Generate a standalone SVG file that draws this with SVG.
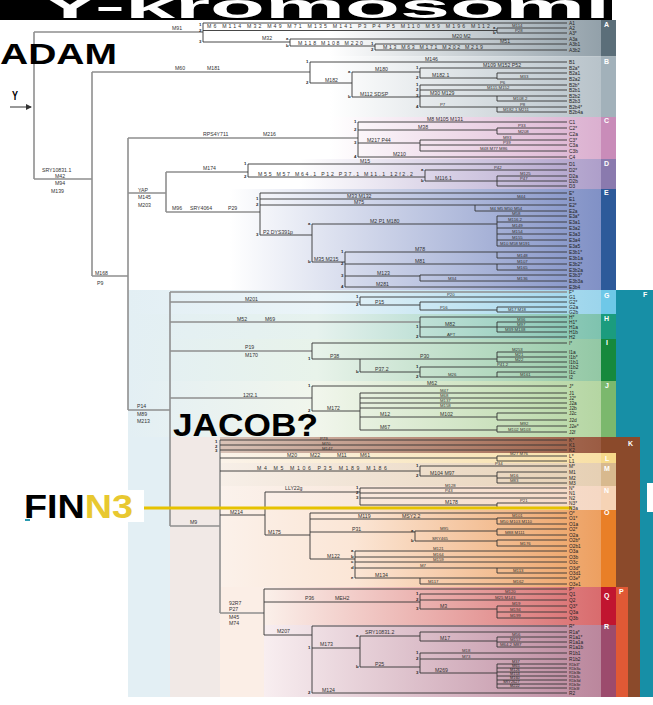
<svg xmlns="http://www.w3.org/2000/svg" width="653" height="705" viewBox="0 0 653 705">
<style>
.bb{fill:none;stroke:#8f8f8f;stroke-width:1.6}
.ln{fill:none;stroke:#333;stroke-width:0.9}
.t{font-family:'Liberation Sans',Arial,sans-serif;font-size:5.2px;fill:#333}
.ts{font-family:'Liberation Sans',Arial,sans-serif;font-size:4.3px;fill:#333}
.lf{font-family:'Liberation Sans',Arial,sans-serif;font-size:4.8px;fill:#222}
.lfs{font-family:'Liberation Sans',Arial,sans-serif;font-size:3.9px;fill:#222}
.n{font-family:'Liberation Sans',Arial,sans-serif;font-size:4.3px;font-weight:bold;fill:#222}
.hg{font-family:'Liberation Sans',Arial,sans-serif;font-size:7px;font-weight:bold;fill:#fff}
.big{font-family:'Liberation Sans',Arial,sans-serif;font-weight:bold}
</style>
<defs>
<marker id="arr" markerWidth="6" markerHeight="6" refX="5" refY="3" orient="auto" markerUnits="userSpaceOnUse"><path d="M0,0 L6,3 L0,6 z" fill="#333"/></marker>
<linearGradient id="gA" gradientUnits="userSpaceOnUse" x1="330" y1="0" x2="600" y2="0"><stop offset="0" stop-color="#fff"/><stop offset="1" stop-color="#93a1aa"/></linearGradient>
<linearGradient id="gB" gradientUnits="userSpaceOnUse" x1="330" y1="0" x2="600" y2="0"><stop offset="0" stop-color="#fff"/><stop offset="1" stop-color="#b8c3ca"/></linearGradient>
<linearGradient id="gC" gradientUnits="userSpaceOnUse" x1="330" y1="0" x2="600" y2="0"><stop offset="0" stop-color="#fff"/><stop offset="1" stop-color="#dbb0d0"/></linearGradient>
<linearGradient id="gD" gradientUnits="userSpaceOnUse" x1="300" y1="0" x2="600" y2="0"><stop offset="0" stop-color="#fff"/><stop offset="1" stop-color="#ae9fca"/></linearGradient>
<linearGradient id="gE" gradientUnits="userSpaceOnUse" x1="230" y1="0" x2="600" y2="0"><stop offset="0" stop-color="#fff"/><stop offset="1" stop-color="#8191c6"/></linearGradient>
<linearGradient id="gG" gradientUnits="userSpaceOnUse" x1="128" y1="0" x2="600" y2="0"><stop offset="0" stop-color="#e3eff4"/><stop offset="0.4" stop-color="#eaf4f8"/><stop offset="1" stop-color="#9cd5ec"/></linearGradient>
<linearGradient id="gH" gradientUnits="userSpaceOnUse" x1="128" y1="0" x2="600" y2="0"><stop offset="0" stop-color="#e3eff4"/><stop offset="0.4" stop-color="#e6f2ee"/><stop offset="1" stop-color="#7fc3af"/></linearGradient>
<linearGradient id="gI" gradientUnits="userSpaceOnUse" x1="128" y1="0" x2="600" y2="0"><stop offset="0" stop-color="#e3eff4"/><stop offset="0.4" stop-color="#e8f3ea"/><stop offset="1" stop-color="#93c8a5"/></linearGradient>
<linearGradient id="gJ" gradientUnits="userSpaceOnUse" x1="128" y1="0" x2="600" y2="0"><stop offset="0" stop-color="#e3eff4"/><stop offset="0.4" stop-color="#f1f6ec"/><stop offset="1" stop-color="#b5d6a3"/></linearGradient>
<linearGradient id="gK" gradientUnits="userSpaceOnUse" x1="220" y1="0" x2="600" y2="0"><stop offset="0" stop-color="#d9c3b8"/><stop offset="1" stop-color="#9b5c43"/></linearGradient>
<linearGradient id="gL" gradientUnits="userSpaceOnUse" x1="220" y1="0" x2="600" y2="0"><stop offset="0" stop-color="#fbf3ea"/><stop offset="1" stop-color="#f8e0a6"/></linearGradient>
<linearGradient id="gM" gradientUnits="userSpaceOnUse" x1="220" y1="0" x2="600" y2="0"><stop offset="0" stop-color="#f7efe8"/><stop offset="1" stop-color="#e6d0b4"/></linearGradient>
<linearGradient id="gN" gradientUnits="userSpaceOnUse" x1="220" y1="0" x2="600" y2="0"><stop offset="0" stop-color="#fbf2ec"/><stop offset="1" stop-color="#f5d8c4"/></linearGradient>
<linearGradient id="gO" gradientUnits="userSpaceOnUse" x1="220" y1="0" x2="600" y2="0"><stop offset="0" stop-color="#fbf1ea"/><stop offset="0.35" stop-color="#fbe6d6"/><stop offset="1" stop-color="#eda061"/></linearGradient>
<linearGradient id="gQ" gradientUnits="userSpaceOnUse" x1="264" y1="0" x2="600" y2="0"><stop offset="0" stop-color="#fbf0ea"/><stop offset="1" stop-color="#d96c6e"/></linearGradient>
<linearGradient id="gR" gradientUnits="userSpaceOnUse" x1="264" y1="0" x2="600" y2="0"><stop offset="0" stop-color="#f8eef0"/><stop offset="1" stop-color="#bb879d"/></linearGradient>
</defs>
<rect width="653" height="705" fill="#fff"/>
<g id="bands">
<rect x="330" y="20" width="271" height="36.5" fill="url(#gA)"/>
<rect x="330" y="56.5" width="271" height="60.5" fill="url(#gB)"/>
<rect x="330" y="117" width="271" height="42" fill="url(#gC)"/>
<rect x="300" y="159" width="301" height="30" fill="url(#gD)"/>
<rect x="230" y="189" width="371" height="101" fill="url(#gE)"/>
<rect x="128" y="290" width="42" height="407" fill="#e3eff4"/>
<rect x="128" y="290" width="473" height="24" fill="url(#gG)"/>
<rect x="128" y="314" width="473" height="25" fill="url(#gH)"/>
<rect x="128" y="339" width="473" height="42" fill="url(#gI)"/>
<rect x="128" y="381" width="473" height="56" fill="url(#gJ)"/>
<rect x="170" y="437" width="50" height="260" fill="#f1e9e6"/>
<rect x="220" y="437" width="381" height="16" fill="url(#gK)"/>
<rect x="220" y="453" width="381" height="10" fill="url(#gL)"/>
<rect x="220" y="463" width="381" height="23" fill="url(#gM)"/>
<rect x="220" y="486" width="381" height="24" fill="url(#gN)"/>
<rect x="220" y="510" width="381" height="77" fill="url(#gO)"/>
<rect x="220" y="587" width="44" height="110" fill="#fbeee6"/>
<rect x="264" y="587" width="337" height="38" fill="url(#gQ)"/>
<rect x="264" y="625" width="337" height="72" fill="url(#gR)"/>
</g>
<g id="haplogroup-columns">
<rect x="616" y="290" width="37" height="407" fill="#178fa6"/>
<rect x="616" y="437" width="24" height="260" fill="#8b4a2b"/>
<rect x="616" y="587" width="12" height="110" fill="#e05935"/>
<rect x="647" y="483" width="6" height="29" fill="#fff"/>
<rect x="601" y="20" width="15" height="36.5" fill="#5b6e79"/>
<rect x="601" y="56.5" width="15" height="60.5" fill="#a2b1ba"/>
<rect x="601" y="117" width="15" height="42" fill="#c98cb9"/>
<rect x="601" y="159" width="15" height="30" fill="#8a7aae"/>
<rect x="601" y="189" width="15" height="101" fill="#2d5a9a"/>
<rect x="601" y="290" width="15" height="24" fill="#6ec8e8"/>
<rect x="601" y="314" width="15" height="25" fill="#1b9c7e"/>
<rect x="601" y="339" width="15" height="42" fill="#16893c"/>
<rect x="601" y="381" width="15" height="56" fill="#7bb86d"/>
<rect x="601" y="437" width="15" height="16" fill="#8b4a2b"/>
<rect x="601" y="453" width="15" height="10" fill="#f6d98a"/>
<rect x="601" y="463" width="15" height="23" fill="#d8b98e"/>
<rect x="601" y="486" width="15" height="24" fill="#f6d3b5"/>
<rect x="601" y="510" width="15" height="77" fill="#e97f27"/>
<rect x="601" y="587" width="15" height="38" fill="#c11530"/>
<rect x="601" y="625" width="15" height="72" fill="#9c4b6d"/>
<text class="hg" x="604" y="27">A</text>
<text class="hg" x="604" y="64">B</text>
<text class="hg" x="604" y="123">C</text>
<text class="hg" x="604" y="166">D</text>
<text class="hg" x="604" y="195">E</text>
<text class="hg" x="643" y="297">F</text>
<text class="hg" x="604" y="298">G</text>
<text class="hg" x="604" y="321">H</text>
<text class="hg" x="606" y="345">I</text>
<text class="hg" x="605" y="388">J</text>
<text class="hg" x="628" y="446">K</text>
<text class="hg" x="605" y="461">L</text>
<text class="hg" x="604" y="471">M</text>
<text class="hg" x="604" y="493">N</text>
<text class="hg" x="604" y="515">O</text>
<text class="hg" x="619" y="594">P</text>
<text class="hg" x="604" y="598">Q</text>
<text class="hg" x="604" y="629">R</text>
</g>
<g id="title">
<rect x="0" y="0" width="612" height="20" fill="#000"/>
<text class="big" x="40" y="18" font-size="34" fill="#fff" textLength="570" lengthAdjust="spacingAndGlyphs">Y-kromosomi</text>
</g>
<g id="connectors">
<path class="bb" d="M34 32V179M34 32H203M34 179H92M92 72V276M92 72H310M92 276H128M128 138V410M128 138H358M128 193H166M166 172V212M166 172H248M166 212H260M128 410H170M170 292V526M170 292H567M170 302H360M170 322H420M170 351H312M170 398H312M170 526H220M220 440V613M220 613H264"/>
<path class="ln" d="M203 23V42M203 23H567M203 30.5H497M497 28V33M497 28H567M497 33H567M203 42H290M290 39V46M290 39H567M290 46H375M375 44V50M375 44H567M375 50H567"/>
<path class="ln" d="M310 62V83M310 62H567M310 83H352M352 72V97M352 72H420M420 68V78M420 68H567M420 78H497M497 73V79M497 73H567M497 79H567M352 97H420M420 85V107M420 85H567M420 90H567M420 96H497M497 96V101M497 96H567M497 101H567M420 107H497M497 107V112M497 107H567M497 112H567"/>
<path class="ln" d="M358 122V157M358 122H567M358 130H497M497 128V134M497 128H567M497 134H567M358 143H420M420 140V151M420 140H567M420 145H567M420 151H567M358 157H567"/>
<path class="ln" d="M248 164V177M248 164H567M248 177H425M425 170V181M425 170H567M425 181H497M497 176V186M497 176H567M497 181H567M497 186H567"/>
<path class="ln" d="M260 193V235M260 193H567M260 199H567M260 205H475M475 205V211M475 205H567M475 211H567M260 235H312M312 224V262M312 224H497M497 216V246M497 216H567M497 222H567M497 228H567M497 234H567M497 240H567M497 246H567M312 262H345M345 252V287M345 252H497M497 252V258M497 252H567M497 258H567M345 264H497M497 264V270M497 264H567M497 270H567M345 276H420M420 275V281M420 275H567M420 281H567M345 287H567"/>
<path class="ln" d="M360 297V305M360 297H567M360 305H420M420 302V310M420 302H567M420 310H497M497 307V312M497 307H567M497 312H567"/>
<path class="ln" d="M420 317V337M420 317H567M420 327H497M497 322V332M497 322H567M497 327H567M497 332H567M420 337H567"/>
<path class="ln" d="M312 343V359M312 343H567M312 359H497M497 352V362M497 352H567M497 357H567M497 362H567M360 359V372M360 372H420M420 367V377M420 367H567M420 377H497M497 372V377M497 372H567M497 377H567"/>
<path class="ln" d="M312 386V411M312 386H567M312 411H360M360 393V430M360 393H567M360 398H567M360 403H567M360 408H567M360 417H497M497 413V420M497 413H567M497 420H567M360 430H497M497 426V432M497 426H567M497 432H567"/>
<path class="ln" d="M220 440H567M220 445H567M220 450H567"/>
<path class="ln" d="M220 458H497M497 456V461M497 456H567M497 461H567"/>
<path class="ln" d="M220 471H420M420 466V476M420 466H567M420 476H497M497 472V483M497 472H567M497 478H567M497 483H567"/>
<path class="ln" d="M220 515H265M265 492V535M265 492H360M360 488V505M360 488H567M360 493H567M360 498H567M360 505H497M497 503V508M497 503H567M497 508H567"/>
<path class="ln" d="M265 535H310M310 513V559M310 513H567M310 519H497M497 518V524M497 518H567M497 524H567M310 532H415M415 531V541M415 531H497M497 529V535M497 529H567M497 535H567M415 541H497M497 540V546M497 540H567M497 546H567M310 559H355M355 551V578M355 551H567M355 557H567M355 562H567M355 568H497M497 568V573M497 568H567M497 573H567M355 578H420M420 578V584M420 578H567M420 584H567"/>
<path class="ln" d="M264 589V635M264 589H567M264 602H420M420 594V609M420 594H567M420 600H567M420 609H497M497 606V618M497 606H567M497 612H567M497 618H567"/>
<path class="ln" d="M264 635H312M312 626V693M312 626H567M312 648H360M360 636V667M360 636H420M420 632V641M420 632H567M420 641H497M497 637V647M497 637H567M497 642H567M497 647H567M360 667H420M420 653V673M420 653H567M420 659H567M420 673H497M497 664V688M497 664H567M497 668H567M497 672H567M497 676H567M497 680H567M497 684H567M497 688H567M312 693H567"/>
<path d="M143 508H572" fill="none" stroke="#e6c200" stroke-width="3"/>
<path d="M10 107H31" fill="none" stroke="#333" stroke-width="1" marker-end="url(#arr)"/>
</g>
<g id="marker-labels">
<text class="t" x="172" y="29.5">M91</text>
<text class="t" x="207" y="27.5" textLength="283" lengthAdjust="spacing">M6 M114 M32 M49 M71 M135 M141 P3 P4 P5 M110 M59 M196 M112</text>
<text class="ts" x="512" y="27">M114</text><text class="ts" x="515" y="32">P28</text>
<text class="t" x="262" y="40">M32</text>
<text class="t" x="452" y="37.5">M20 M2</text>
<text class="t" x="298" y="44.5" textLength="65" lengthAdjust="spacing">M118 M108 M220</text>
<text class="t" x="500" y="42.5">M51</text>
<text class="t" x="383" y="48.7" textLength="100" lengthAdjust="spacing">M13 M63 M171 M202 M219</text>
<text class="t" x="42" y="172">SRY10831.1</text>
<text class="t" x="55" y="177.5">M42</text><text class="t" x="55" y="185">M94</text><text class="t" x="51" y="193">M139</text>
<text class="t" x="175" y="69.5">M60</text><text class="t" x="207" y="69.5">M181</text>
<text class="t" x="425" y="60.5">M146</text>
<text class="t" x="325" y="81.5">M182</text>
<text class="t" x="375" y="70.5">M180</text>
<text class="t" x="483" y="66.5">M109 M152 P52</text>
<text class="t" x="432" y="76.5">M182.1</text>
<text class="ts" x="520" y="77.5">M33</text>
<text class="t" x="360" y="95.5">M112 SDSP</text>
<text class="ts" x="500" y="83.8">P6</text>
<text class="ts" x="487" y="88.8">M115 M152</text>
<text class="t" x="430" y="94.5">M30 M129</text>
<text class="ts" x="513" y="99.8">M108.2</text>
<text class="ts" x="440" y="105.8">P7</text><text class="ts" x="520" y="105.8">P8</text>
<text class="ts" x="503" y="110.8">M182.1 M211</text>
<text class="t" x="95" y="274.5">M168</text><text class="t" x="97" y="285">P9</text>
<text class="t" x="203" y="136">RPS4Y711</text><text class="t" x="263" y="136">M216</text>
<text class="t" x="427" y="120.5">M8 M105 M131</text>
<text class="t" x="418" y="128.5">M38</text>
<text class="ts" x="518" y="127">P33</text><text class="ts" x="518" y="133">M208</text>
<text class="t" x="367" y="141.5">M217 P44</text>
<text class="ts" x="503" y="139">M93</text><text class="ts" x="503" y="144">P39</text>
<text class="ts" x="480" y="149.7">M48 M77 M86</text>
<text class="t" x="393" y="155.5">M210</text>
<text class="t" x="138" y="191.5">YAP</text><text class="t" x="138" y="199">M145</text><text class="t" x="138" y="206.5">M203</text>
<text class="t" x="203" y="169.5">M174</text>
<text class="t" x="360" y="162.5">M15</text>
<text class="t" x="258" y="175.5" textLength="155" lengthAdjust="spacing">M55 M57 M64.1 P12 P37.1 M11.1 12f2.2</text>
<text class="ts" x="494" y="168.8">P42</text>
<text class="t" x="435" y="179.5">M116.1</text>
<text class="ts" x="520" y="175">M125</text><text class="ts" x="520" y="180">P47</text>
<text class="t" x="172" y="210">M96</text><text class="t" x="190" y="210">SRY4064</text><text class="t" x="228" y="210">P29</text>
<text class="t" x="347" y="197.5">M33 M132</text>
<text class="ts" x="517" y="197.8">M44</text>
<text class="t" x="354" y="203.5">M75</text>
<text class="ts" x="490" y="209.8">M4 M5 M50 M54</text>
<text class="t" x="263" y="233.5">P2 DYS391p</text>
<text class="t" x="370" y="222.5">M2 P1 M180</text>
<text class="ts" x="512" y="215">M58</text><text class="ts" x="508" y="221">M116.2</text><text class="ts" x="512" y="227">M149</text><text class="ts" x="512" y="233">M154</text><text class="ts" x="512" y="239">M155</text><text class="ts" x="500" y="245">M10 M58 M191</text>
<text class="t" x="314" y="260.5">M35 M215</text>
<text class="t" x="415" y="250.5">M78</text><text class="ts" x="517" y="257">M148</text>
<text class="t" x="415" y="262.5">M81</text><text class="ts" x="517" y="263">M107</text><text class="ts" x="517" y="269">M165</text>
<text class="t" x="377" y="274.5">M123</text>
<text class="ts" x="448" y="279.8">M34</text><text class="ts" x="517" y="280">M136</text>
<text class="t" x="376" y="285.7">M281</text>
<text class="t" x="137" y="408">P14</text><text class="t" x="137" y="416">M89</text><text class="t" x="137" y="423">M213</text>
<text class="t" x="245" y="300.5">M201</text>
<text class="ts" x="447" y="295.8">P20</text>
<text class="t" x="375" y="303.5">P15</text>
<text class="ts" x="440" y="308.8">P16</text>
<text class="ts" x="508" y="311">M17 M18</text>
<text class="t" x="237" y="320.5">M52</text><text class="t" x="265" y="320.5">M69</text>
<text class="t" x="445" y="325.5">M82</text>
<text class="ts" x="517" y="321">M36</text><text class="ts" x="517" y="326">M97</text><text class="ts" x="505" y="331">M39 M138</text>
<text class="ts" x="447" y="335.8">APT</text>
<text class="t" x="245" y="349">P19</text><text class="t" x="245" y="357">M170</text>
<text class="t" x="330" y="357.5">P38</text>
<text class="t" x="420" y="357.5">P30</text>
<text class="ts" x="512" y="351">M253</text><text class="ts" x="515" y="356">M21</text><text class="ts" x="515" y="361">M22</text>
<text class="t" x="375" y="370.5">P37.2</text>
<text class="ts" x="497" y="366">P41.2</text>
<text class="ts" x="448" y="375.8">M26</text><text class="ts" x="520" y="376">M161</text>
<text class="t" x="243" y="396.5">12f2.1</text>
<text class="t" x="427" y="384.5">M62</text>
<text class="ts" x="440" y="392">M47</text><text class="ts" x="440" y="397">M68</text><text class="ts" x="440" y="402">M137</text><text class="ts" x="440" y="407">M158</text>
<text class="t" x="327" y="409.5">M172</text>
<text class="t" x="380" y="415.5">M12</text><text class="t" x="440" y="415.5">M102</text>
<text class="t" x="380" y="428.5">M67</text>
<text class="ts" x="520" y="425">M92</text><text class="ts" x="508" y="431">M102 M103</text>
<text class="ts" x="320" y="439.5">P79</text><text class="ts" x="322" y="444.5">M70</text><text class="ts" x="322" y="449.5">M147</text>
<text class="t" x="287" y="456.5">M20</text><text class="t" x="310" y="456.5">M22</text><text class="t" x="337" y="456.5">M11</text><text class="t" x="360" y="456.5">M61</text>
<text class="ts" x="510" y="455">M27 M76</text>
<text class="t" x="257" y="469.5" textLength="130" lengthAdjust="spacing">M4 M5 M106 P35 M189 M186</text>
<text class="ts" x="495" y="464.8">P34</text>
<text class="t" x="430" y="474.5">M104 M97</text>
<text class="ts" x="510" y="477">M16</text><text class="ts" x="510" y="482">M83</text>
<text class="t" x="285" y="490">LLY22g</text>
<text class="ts" x="445" y="486.8">M128</text><text class="ts" x="445" y="491.8">P43</text>
<text class="t" x="445" y="503.5">M178</text><text class="ts" x="520" y="502">P21</text>
<text class="t" x="230" y="513.5">M214</text>
<text class="t" x="190" y="524">M9</text>
<text class="t" x="268" y="533.5">M175</text>
<text class="t" x="358" y="517.5">M119</text><text class="t" x="402" y="517.5">MSY2.2</text>
<text class="ts" x="512" y="517">M101</text><text class="ts" x="500" y="522.8">M50 M103 M110</text>
<text class="t" x="352" y="530.5">P31</text>
<text class="ts" x="440" y="529.8">M95</text><text class="ts" x="505" y="534">M88 M111</text>
<text class="ts" x="432" y="539.8">SRY465</text><text class="ts" x="520" y="545">M176</text>
<text class="t" x="327" y="557.5">M122</text>
<text class="ts" x="433" y="549.8">M121</text><text class="ts" x="433" y="555.8">M164</text><text class="ts" x="433" y="561">M159</text>
<text class="ts" x="420" y="566.8">M7</text><text class="ts" x="513" y="572">M113</text>
<text class="t" x="375" y="576.5">M134</text>
<text class="ts" x="428" y="582.8">M117</text><text class="ts" x="513" y="582.8">M162</text>
<text class="t" x="229" y="605">92R7</text><text class="t" x="229" y="611">P27</text><text class="t" x="229" y="618.5">M45</text><text class="t" x="229" y="624.5">M74</text>
<text class="t" x="305" y="600">P36</text><text class="t" x="335" y="600">MEH2</text>
<text class="ts" x="505" y="592.8">M120</text><text class="ts" x="495" y="598.8">M25 M143</text>
<text class="t" x="440" y="607.5">M3</text>
<text class="ts" x="512" y="605">M19</text><text class="ts" x="510" y="611">M194</text><text class="ts" x="510" y="617">M199</text>
<text class="t" x="277" y="633">M207</text>
<text class="t" x="320" y="646">M173</text>
<text class="t" x="365" y="634">SRY10831.2</text>
<text class="t" x="440" y="639.5">M17</text>
<text class="ts" x="512" y="636">M56</text><text class="ts" x="510" y="641">M157</text><text class="ts" x="500" y="646">M64.2 M87</text>
<text class="t" x="375" y="665.5">P25</text>
<text class="ts" x="462" y="651.8">M18</text><text class="ts" x="462" y="657.8">M73</text>
<text class="t" x="435" y="671.5">M269</text>
<text class="lfs" x="512" y="663">M37</text><text class="lfs" x="512" y="667">M65</text><text class="lfs" x="510" y="671">M126</text><text class="lfs" x="510" y="675">M153</text><text class="lfs" x="510" y="679">M160</text><text class="lfs" x="503" y="683">SRY2627</text><text class="lfs" x="510" y="687">M222</text>
<text class="t" x="322" y="691.5">M124</text>
</g>
<g id="branch-numbers">
<text class="n" x="199" y="26">1</text><text class="n" x="199" y="31.5">2</text><text class="n" x="199" y="43">3</text>
<text class="n" x="286" y="40">a</text><text class="n" x="286" y="47">b</text><text class="n" x="371" y="45">1</text><text class="n" x="371" y="51">2</text><text class="n" x="493" y="29">a</text><text class="n" x="493" y="34">b</text>
<text class="n" x="306" y="63">1</text><text class="n" x="306" y="84">2</text><text class="n" x="348" y="73">a</text><text class="n" x="348" y="98">b</text>
<text class="n" x="416" y="69">1</text><text class="n" x="416" y="79">2</text><text class="n" x="416" y="86">1</text><text class="n" x="416" y="91">2</text><text class="n" x="416" y="97">3</text><text class="n" x="416" y="108">4</text>
<text class="n" x="354" y="123">1</text><text class="n" x="354" y="131">2</text><text class="n" x="354" y="144">3</text><text class="n" x="354" y="158">4</text>
<text class="n" x="244" y="165">1</text><text class="n" x="244" y="178">2</text><text class="n" x="421" y="171">a</text><text class="n" x="421" y="182">b</text>
<text class="n" x="256" y="200">1</text><text class="n" x="256" y="206">2</text><text class="n" x="256" y="236">3</text><text class="n" x="308" y="225">a</text><text class="n" x="308" y="263">b</text>
<text class="n" x="341" y="253">1</text><text class="n" x="341" y="265">2</text><text class="n" x="341" y="277">3</text><text class="n" x="341" y="288">4</text>
<text class="n" x="356" y="298">1</text><text class="n" x="356" y="306">2</text>
<text class="n" x="416" y="328">1</text><text class="n" x="416" y="338">2</text>
<text class="n" x="308" y="360">1</text><text class="n" x="356" y="373">b</text><text class="n" x="416" y="368">1</text><text class="n" x="416" y="378">2</text>
<text class="n" x="308" y="387">1</text><text class="n" x="308" y="412">2</text>
<text class="n" x="215" y="443">1</text><text class="n" x="215" y="447.5">2</text><text class="n" x="215" y="452">3</text>
<text class="n" x="416" y="467">1</text><text class="n" x="416" y="477">2</text>
<text class="n" x="356" y="489">1</text><text class="n" x="356" y="494">2</text><text class="n" x="356" y="499">3</text>
<text class="n" x="411" y="532">a</text><text class="n" x="411" y="542">b</text>
<text class="n" x="351" y="552">a</text><text class="n" x="351" y="558">b</text><text class="n" x="351" y="563">c</text><text class="n" x="351" y="569">d</text><text class="n" x="351" y="579">e</text>
<text class="n" x="416" y="595">1</text><text class="n" x="416" y="601">2</text><text class="n" x="416" y="610">3</text>
<text class="n" x="308" y="649">1</text><text class="n" x="308" y="694">2</text><text class="n" x="356" y="637">a</text><text class="n" x="356" y="668">b</text>
<text class="n" x="416" y="654">1</text><text class="n" x="416" y="660">2</text><text class="n" x="416" y="674">3</text>
</g>
<g id="leaves">
<text class="lf" x="569" y="25">A1</text><text class="lf" x="569" y="30">A2</text><text class="lf" x="569" y="35">A3*</text><text class="lf" x="569" y="41">A3a</text><text class="lf" x="569" y="46">A3b1</text><text class="lf" x="569" y="52">A3b2</text>
<text class="lf" x="569" y="64">B1</text><text class="lf" x="569" y="70">B2a*</text><text class="lf" x="569" y="75">B2a1</text><text class="lf" x="569" y="81">B2a2</text><text class="lf" x="569" y="87">B2b*</text><text class="lf" x="569" y="92">B2b1</text><text class="lf" x="569" y="98">B2b2</text><text class="lf" x="569" y="103">B2b3</text><text class="lf" x="569" y="109">B2b4*</text><text class="lf" x="569" y="114">B2b4a</text>
<text class="lf" x="569" y="124">C1</text><text class="lf" x="569" y="130">C2*</text><text class="lf" x="569" y="136">C2a</text><text class="lf" x="569" y="142">C3*</text><text class="lf" x="569" y="147">C3a</text><text class="lf" x="569" y="153">C3b</text><text class="lf" x="569" y="159">C4</text>
<text class="lf" x="569" y="166">D1</text><text class="lf" x="569" y="172">D2*</text><text class="lf" x="569" y="178">D2a</text><text class="lf" x="569" y="183">D2b</text><text class="lf" x="569" y="188">D3</text>
<text class="lf" x="569" y="195">E*</text><text class="lf" x="569" y="201">E1</text><text class="lf" x="569" y="207">E2*</text><text class="lf" x="569" y="213">E2a</text><text class="lf" x="569" y="218">E3a*</text><text class="lf" x="569" y="224">E3a1</text><text class="lf" x="569" y="230">E3a2</text><text class="lf" x="569" y="236">E3a3</text><text class="lf" x="569" y="242">E3a4</text><text class="lf" x="569" y="248">E3a5</text><text class="lf" x="569" y="254">E3b1*</text><text class="lf" x="569" y="260">E3b1a</text><text class="lf" x="569" y="266">E3b2*</text><text class="lf" x="569" y="272">E3b2a</text><text class="lf" x="569" y="277">E3b3*</text><text class="lf" x="569" y="283">E3b3a</text><text class="lf" x="569" y="289">E3b4</text>
<text class="lf" x="569" y="294">F*</text><text class="lf" x="569" y="299">G1</text><text class="lf" x="569" y="304">G2*</text><text class="lf" x="569" y="309">G2a</text><text class="lf" x="569" y="314">G2b</text>
<text class="lf" x="569" y="319">H*</text><text class="lf" x="569" y="324">H1*</text><text class="lf" x="569" y="329">H1a</text><text class="lf" x="569" y="334">H1b</text><text class="lf" x="569" y="339">H2</text>
<text class="lf" x="569" y="345">I*</text><text class="lf" x="569" y="354">I1a</text><text class="lf" x="569" y="359">I1b*</text><text class="lf" x="569" y="364">I1b1</text><text class="lf" x="569" y="369">I1b2</text><text class="lf" x="569" y="374">I1c</text><text class="lf" x="569" y="379">I2</text>
<text class="lf" x="569" y="388">J*</text><text class="lf" x="569" y="395">J1</text><text class="lf" x="569" y="400">J2*</text><text class="lf" x="569" y="405">J2a</text><text class="lf" x="569" y="410">J2b</text><text class="lf" x="569" y="415">J2c</text><text class="lf" x="569" y="422">J2d</text><text class="lf" x="569" y="428">J2e*</text><text class="lf" x="569" y="434">J2f</text>
<text class="lf" x="569" y="442">K*</text><text class="lf" x="569" y="447">K1</text><text class="lf" x="569" y="452">K2</text>
<text class="lf" x="569" y="458">L*</text><text class="lf" x="569" y="463">L1</text>
<text class="lf" x="569" y="468">M*</text><text class="lf" x="569" y="474">M1</text><text class="lf" x="569" y="480">M2</text><text class="lf" x="569" y="485">M3</text>
<text class="lf" x="569" y="490">N*</text><text class="lf" x="569" y="495">N1</text><text class="lf" x="569" y="500">N2</text><text class="lf" x="569" y="505">N3*</text><text class="lf" x="569" y="510">N3a</text>
<text class="lf" x="569" y="515">O*</text><text class="lf" x="569" y="520">O1*</text><text class="lf" x="569" y="526">O1a</text><text class="lf" x="569" y="531">O2*</text><text class="lf" x="569" y="537">O2a</text><text class="lf" x="569" y="542">O2b*</text><text class="lf" x="569" y="548">O2b1</text><text class="lf" x="569" y="553">O3a</text><text class="lf" x="569" y="559">O3b</text><text class="lf" x="569" y="564">O3c</text><text class="lf" x="569" y="570">O3d*</text><text class="lf" x="569" y="575">O3d1</text><text class="lf" x="569" y="580">O3e*</text><text class="lf" x="569" y="586">O3e1</text>
<text class="lf" x="569" y="591">P*</text>
<text class="lf" x="569" y="596">Q1</text><text class="lf" x="569" y="602">Q2</text><text class="lf" x="569" y="608">Q3*</text><text class="lf" x="569" y="614">Q3a</text><text class="lf" x="569" y="620">Q3b</text>
<text class="lf" x="569" y="628">R*</text><text class="lf" x="569" y="634">R1a*</text><text class="lf" x="569" y="639">R1a1*</text><text class="lf" x="569" y="644">R1a1a</text><text class="lf" x="569" y="649">R1a1b</text><text class="lf" x="569" y="655">R1b1</text><text class="lf" x="569" y="661">R1b2</text><text class="lfs" x="569" y="665.5">R1b3*</text><text class="lfs" x="569" y="669.5">R1b3a</text><text class="lfs" x="569" y="673.5">R1b3b</text><text class="lfs" x="569" y="677.5">R1b3c</text><text class="lfs" x="569" y="681.5">R1b3d</text><text class="lfs" x="569" y="685.5">R1b3e</text><text class="lfs" x="569" y="689.5">R1b3f</text><text class="lf" x="569" y="695">R2</text>
</g>
<g id="adam">
<text class="big" x="0" y="64" font-size="30" fill="#000" textLength="117" lengthAdjust="spacingAndGlyphs">ADAM</text>
<text class="big" x="12" y="100" font-size="12" fill="#000" textLength="6" lengthAdjust="spacingAndGlyphs">Y</text>
</g>
<g id="jacob">
<text class="big" x="173" y="436" font-size="32" fill="#000" textLength="145" lengthAdjust="spacingAndGlyphs">JACOB?</text>
</g>
<g id="finn3">
<rect x="20" y="490" width="124" height="32" fill="#fff"/>
<text class="big" x="24" y="518" font-size="33" fill="#000" textLength="109" lengthAdjust="spacingAndGlyphs">FIN<tspan fill="#e8c830">N3</tspan></text>
<rect x="25" y="519" width="5" height="2" fill="#2a9ab0"/>
</g>
</svg>
